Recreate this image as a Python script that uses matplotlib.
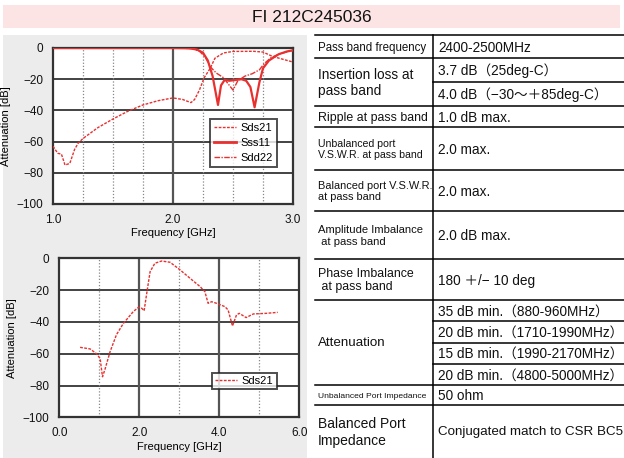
import matplotlib
matplotlib.use("Agg")
import matplotlib.pyplot as plt
from matplotlib.lines import Line2D

# ---- data ----
# upper chart (1-3 GHz)
f_sds21 = [1.0, 1.04, 1.07, 1.10, 1.14, 1.18, 1.21, 1.25, 1.375, 1.5, 1.625, 1.75, 1.875, 2.0,
           2.08, 2.15, 2.18, 2.22, 2.26, 2.31, 2.35, 2.42, 2.5, 2.67, 2.75, 2.83, 3.0]
sds21 = [-63, -67.5, -68, -75, -74, -65, -61, -58, -51, -45.5, -40.5, -36.5, -33.8, -32,
         -33, -35, -33, -27, -19, -13, -6.5, -3.2, -2.2, -2.1, -2.6, -5.4, -9]

f_sss11 = [1.0, 1.5, 2.0, 2.1, 2.15, 2.2, 2.25, 2.29, 2.33, 2.375, 2.40, 2.43, 2.47, 2.52,
           2.57, 2.61, 2.645, 2.68, 2.72, 2.75, 2.8, 2.88, 2.95, 3.0]
sss11 = [0, 0, 0, -0.1, -0.3, -1, -3, -8, -18, -36.5, -24, -20.5, -21, -20.5,
         -20, -21, -25, -38, -22, -13, -8, -4, -2.2, -1.5]

f_sdd22 = [1.0, 2.0, 2.15, 2.22, 2.27, 2.31, 2.36, 2.42, 2.46, 2.5, 2.54, 2.6, 2.66, 2.72,
           2.76, 2.82, 2.9, 3.0]
sdd22 = [0, 0, -0.3, -2, -6, -12, -16, -19, -23, -27, -21, -18, -16.5, -14,
         -10, -6, -3.5, -1.5]

# lower chart (0-6 GHz)
f_wide = [0.52, 0.77, 0.93, 1.02, 1.08, 1.14, 1.27, 1.43, 1.6, 1.85, 1.98, 2.06, 2.12, 2.18,
          2.27, 2.39, 2.56, 2.77, 3.02, 3.27, 3.52, 3.64, 3.72, 3.81, 3.93, 4.14, 4.22, 4.33,
          4.43, 4.5, 4.67, 4.85, 5.18, 5.46]
sds21_wide = [-56, -57, -60, -63, -74.5, -70, -58.7, -48, -41, -33.5, -30.8, -31.4, -33, -23,
              -8.4, -3.1, -1.7, -2.5, -7.3, -12.6, -17.8, -21, -28.3, -27.3, -28.3, -30.4, -32.5, -42.6,
              -35.6, -34.6, -37.3, -35, -34.6, -34]

title = "FI 212C245036"

# spec table: (left text, left font size, [right texts], right font size)
spec_rows = [
    ("Pass band frequency", 8.3, ["2400-2500MHz"], 9.8),
    ("Insertion loss at\npass band", 9.8, ["3.7 dB\uff0825deg-C\uff09", "4.0 dB\uff08\u221230\u301c\uff0b85deg-C\uff09"], 9.8),
    ("Ripple at pass band", 8.9, ["1.0 dB max."], 9.8),
    ("Unbalanced port\nV.S.W.R. at pass band", 7.6, ["2.0 max."], 9.8),
    ("Balanced port V.S.W.R.\nat pass band", 7.9, ["2.0 max."], 9.8),
    ("Amplitude Imbalance\n at pass band", 8.1, ["2.0 dB max."], 9.8),
    ("Phase Imbalance\n at pass band", 8.9, ["180 \uff0b/\u2212 10 deg"], 9.8),
    ("Attenuation", 9.6, ["35 dB min.\uff08880-960MHz\uff09", "20 dB min.\uff081710-1990MHz\uff09",
                         "15 dB min.\uff081990-2170MHz\uff09", "20 dB min.\uff084800-5000MHz\uff09"], 9.8),
    ("Unbalanced Port Impedance", 6.1, ["50 ohm"], 9.8),
    ("Balanced Port\nImpedance", 10.0, ["Conjugated match to CSR BC5"], 9.6),
]
row_edges = [35, 58, 106, 127, 170, 211, 259, 300, 385, 405, 458]

W, H = 624, 458
red = "#e8302f"
fam = ["Liberation Sans", "Noto Sans CJK JP", "DejaVu Sans"]
plt.rcParams["font.family"] = fam

fig = plt.figure(figsize=(W / 100, H / 100), dpi=100)
bg = fig.add_axes([0, 0, 1, 1])
bg.set_xlim(0, W)
bg.set_ylim(H, 0)
bg.axis("off")

# title bar and grey panel behind the charts
bg.add_patch(plt.Rectangle((3, 5), 617, 23, color="#fde4e4", lw=0))
bg.text(312, 17, title, ha="center", va="center", fontsize=12.5, color="#111")
bg.add_patch(plt.Rectangle((3, 35), 304, 423, color="#ececec", lw=0))

# table
xl, xm, xr = 315, 433, 624
for y in row_edges[:-1]:
    bg.plot([xl, xr], [y, y], color="black", lw=1.1)
bg.plot([xm, xm], [row_edges[0], H], color="black", lw=1.1)
for i, (lt, lfs, rts, rfs) in enumerate(spec_rows):
    y0, y1 = row_edges[i], row_edges[i + 1]
    bg.text(xl + 3, (y0 + y1) / 2 + 1, lt, ha="left", va="center", fontsize=lfs,
            linespacing=1.2, color="#111")
    n = len(rts)
    h = (y1 - y0) / n
    for j, t in enumerate(rts):
        if j > 0:
            bg.plot([xm, xr], [y0 + j * h, y0 + j * h], color="black", lw=1.1)
        bg.text(xm + 5, y0 + (j + 0.5) * h + 1, t, ha="left", va="center", fontsize=rfs,
                color="#111")


def style_axes(ax, xmin, xmax, solid, dotted):
    ax.set_xlim(xmin, xmax)
    ax.set_ylim(-100, 0)
    ax.set_yticks(range(-100, 1, 20))
    for y in range(-80, 0, 20):
        ax.axhline(y, color="#222", lw=1.2, zorder=1)
    for x in solid:
        ax.axvline(x, color="#555", lw=1.6, zorder=1)
    for x in dotted:
        ax.axvline(x, color="#888", lw=0.9, ls=(0, (1, 1.5)), zorder=1)
    for s in ax.spines.values():
        s.set_color("#333")
        s.set_linewidth(1.6)
    ax.tick_params(length=0, pad=7, labelsize=8.5, colors="#111")
    ax.set_ylabel("Attenuation [dB]", fontsize=8, labelpad=4)
    ax.set_xlabel("Frequency [GHz]", fontsize=8, labelpad=2)


# upper chart
ax1 = fig.add_axes([53 / W, 1 - 204 / H, 240 / W, 156 / H])
style_axes(ax1, 1.0, 3.0, [2.0], [1.25, 1.5, 1.75, 2.25, 2.5, 2.75])
ax1.set_xticks([1.0, 2.0, 3.0])
ax1.set_xticklabels(["1.0", "2.0", "3.0"])
ax1.plot(f_sds21, sds21, color=red, lw=1.0, ls=(0, (2, 1)), zorder=3)
ax1.plot(f_sss11, sss11, color=red, lw=1.6, zorder=3)
ax1.plot(f_sdd22, sdd22, color=red, lw=1.0, ls=(0, (4, 1, 1, 1)), zorder=3)
h1 = [Line2D([], [], color=red, lw=1.0, ls=(0, (2, 1))),
      Line2D([], [], color=red, lw=2.0),
      Line2D([], [], color=red, lw=1.0, ls=(0, (4, 1, 1, 1)))]
leg1 = ax1.legend(h1, ["Sds21", "Sss11", "Sdd22"], loc="upper left",
                  bbox_to_anchor=(0.655, 0.545), fontsize=8, frameon=True, fancybox=False,
                  handlelength=2.0, handletextpad=0.4, borderpad=0.35, labelspacing=0.45,
                  borderaxespad=0)
leg1.get_frame().set_edgecolor("#222")
leg1.get_frame().set_linewidth(1.4)

# lower chart
ax2 = fig.add_axes([59.3 / W, 1 - 417.3 / H, 240 / W, 159 / H])
style_axes(ax2, 0.0, 6.0, [2.0, 4.0], [1.0, 3.0, 5.0])
ax2.set_xticks([0.0, 2.0, 4.0, 6.0])
ax2.set_xticklabels(["0.0", "2.0", "4.0", "6.0"])
ax2.plot(f_wide, sds21_wide, color=red, lw=1.0, ls=(0, (2, 1)), zorder=3)
leg2 = ax2.legend([h1[0]], ["Sds21"], loc="upper left", bbox_to_anchor=(0.635, 0.28),
                  fontsize=8, frameon=True, fancybox=False, handlelength=2.0,
                  handletextpad=0.4, borderpad=0.3, borderaxespad=0)
leg2.get_frame().set_edgecolor("#222")
leg2.get_frame().set_linewidth(1.4)

fig.savefig("out.png", dpi=100)
